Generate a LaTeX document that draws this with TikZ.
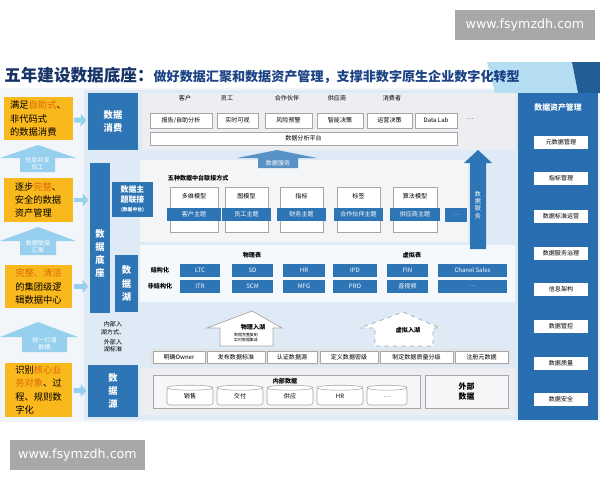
\documentclass[tikz,border=0pt]{standalone}
\usepackage{fontspec}
\setmainfont{Noto Sans CJK SC}
\newfontfamily\wmfont{DejaVu Sans}
\usetikzlibrary{arrows.meta,positioning}

\definecolor{dblue}{RGB}{46,117,182}
\definecolor{pblue}{RGB}{40,110,176}
\definecolor{gold}{RGB}{249,184,28}
\definecolor{hilite}{RGB}{222,104,8}
\definecolor{sky}{RGB}{150,208,238}
\definecolor{pagebg}{RGB}{242,246,250}
\definecolor{bgpanel}{RGB}{222,234,246}
\definecolor{panelgray}{RGB}{236,238,241}
\definecolor{titleblue}{RGB}{22,52,104}
\definecolor{subblue}{RGB}{26,66,132}
\definecolor{wmgray}{RGB}{168,168,168}

\newcommand\fsa{\fontsize{4.3}{5.2}\selectfont}
\newcommand\fsb{\fontsize{5.6}{6.8}\selectfont}
\newcommand\fsc{\fontsize{6.6}{9.4}\selectfont}

\begin{document}
\begin{tikzpicture}[
    x=0.025cm, y=-0.025cm,
    wh/.style 2 args={minimum width=(#1)*0.025cm, minimum height=(#2)*0.025cm},
    bluebox/.style={rectangle, fill=dblue, text=white, inner sep=0pt, font=\fsc\bfseries, align=center},
    goal/.style={rectangle, fill=gold, inner sep=0pt, font=\fsc, align=left},
    cell/.style={rectangle, draw=gray!70, fill=white, inner sep=0pt, font=\fsa},
    tcell/.style={rectangle, fill=dblue, text=white, inner sep=0pt, font=\fsa},
    assetbox/.style={rectangle, fill=white, inner sep=0pt, font=\fsa, wh={54}{13}},
    stepup/.style={fill=sky},
    hop/.style={-{Triangle[length=4pt,width=9pt]}, line width=3.5pt, sky, shorten <=1pt, shorten >=1pt},
    inlet/.style={draw=gray!70, fill=white, line width=0.5pt}
]
    \useasboundingbox (0,0) rectangle (600,480);
    \fill[white] (0,0) rectangle (600,480);

    % Backgrounds
    \fill[pagebg] (0,88) rectangle (600,422);
    \fill[bgpanel] (84,90) rectangle (518,420);
    \fill[sky!70] (487,62) -- (572,62) -- (578,93) -- (495,93) -- cycle;
    \fill[pblue!85!black] (572,62) -- (600,62) -- (600,93) -- (578,93) -- cycle;
    \fill[panelgray] (142,93) rectangle (515,150);
    \fill[panelgray!60!white] (140,160) rectangle (468,242);
    \fill[white!70!bgpanel] (140,245) rectangle (515,302);
    \fill[gray!22] (150,349) rectangle (510,365);
    \fill[panelgray] (140,368) rectangle (515,415);

    % Title
    \node[anchor=west, inner sep=0pt, text=titleblue] (title) at (4,75)
        {{\fontsize{11.8}{13}\selectfont\bfseries 五年建设数据底座：}{\fontsize{9.3}{10}\selectfont\bfseries\color{subblue}做好数据汇聚和数据资产管理，支撑非数字原生企业数字化转型}};

    % Watermarks
    \node[fill=wmgray, text=white, wh={140}{30}, inner sep=0pt, font=\wmfont\fontsize{9}{10}\selectfont] (wmtop) at (525,25) {www.fsymzdh.com};
    \node[fill=wmgray, text=white, wh={135}{30}, inner sep=0pt, font=\wmfont\fontsize{9}{10}\selectfont] (wmbot) at (77.5,455) {www.fsymzdh.com};

    % Left column: goals
    \node[goal, wh={69}{43}] (need) at (38,118.5) {满足{\color{hilite}自助式}、\\非代码式\\的数据消费};
    \node[goal, wh={69}{44}] (asset) at (38,200) {逐步{\color{hilite}完整}、\\安全的数据\\资产管理};
    \node[goal, wh={67}{43}] (center) at (38.5,286.5) {{\color{hilite}完整、清洁}\\的集团级逻\\辑数据中心};
    \node[goal, wh={67}{54}] (core) at (38.5,390) {识别{\color{hilite}核心业}\\{\color{hilite}务对象}、过\\程、规则数\\字化};

    % Left column: up arrows
    \fill[stepup] (38,145) -- (76,158) -- (55,158) -- (55,172) -- (20,172) -- (20,158) -- (0,158) -- cycle;
    \node[font=\fsa, text=white, align=center] (upa) at (37.5,164) {信息共享\\加工};
    \fill[stepup] (38,227) -- (76,241) -- (56,241) -- (56,255) -- (20,255) -- (20,241) -- (0,241) -- cycle;
    \node[font=\fsa, text=white, align=center] (upb) at (38,247) {数据联接\\汇聚};
    \fill[stepup] (38,322) -- (78,337) -- (67,337) -- (67,352) -- (22,352) -- (22,337) -- (0,337) -- cycle;
    \node[font=\fsa, text=white, align=center] (upc) at (44.5,343.5) {统一打通\\数据};

    % Layer boxes
    \node[bluebox, wh={50}{57}] (consume) at (113,121.5) {数据\\消费};
    \node[bluebox, wh={20}{150}] (base) at (100,238) {\\[18pt]数\\据\\底\\座};
    \node[bluebox, wh={41}{35}, font=\fsb\bfseries] (topic) at (132.5,199.5) {数据主\\题联接\\{\fontsize{3.4}{4}\selectfont(数据中台)}};
    \node[bluebox, wh={23}{57}] (lake) at (126.5,283.5) {数\\据\\湖};
    \node[bluebox, wh={50}{52}] (source) at (113,391) {数\\据\\源};
    \node[font=\fsa, align=center] (inway) at (113,337) {内部入\\湖方式、\\[2pt]外部入\\湖标准};

    % Hops
    \draw[hop] (need) -- (consume);
    \draw[hop] (asset.east) -- (asset.east -| base.west);
    \draw[hop] (center.east) -- (center.east -| base.west);
    \draw[hop] (core) -- (source);

    % Data consumption
    \foreach \n/\x/\t in {cust/185/客户, staff/227/员工, part/287/合作伙伴, supp/337/供应商, user/392/消费者}
        \node[font=\fsa] (\n) at (\x,98) {\t};
    \foreach \n/\x/\w/\t in {rpt/181/62/{报告/自助分析}, rtv/237.5/41/实时可视, risk/288.5/47/风险预警,
                             smart/340/46/智能决策, ops/389.5/45/运营决策, lab/436/42/Data Lab}
        \node[cell, wh={\w}{15}] (\n) at (\x,120.5) {\t};
    \node[font=\fsa] (moreapp) at (470,119) {\ldots};
    \node[cell, wh={307}{13}] (platform) at (303.5,138.5) {数据分析平台};

    % Data service arrows
    \fill[dblue!80] (277,150) -- (317,158) -- (298,158) -- (298,168) -- (258,168) -- (258,158) -- (237,158) -- cycle;
    \node[font=\fsa, text=white] (srvmid) at (278,163) {数据服务};
    \fill[dblue] (478,150) -- (492,163) -- (486,163) -- (486,249) -- (470,249) -- (470,163) -- (464,163) -- cycle;
    \node[font=\fsa, text=white, align=center] (srvright) at (478,205) {数\\据\\服\\务};

    % Data middle platform
    \node[anchor=west, font=\fsa\bfseries] (modes) at (163,178) {五种数据中台联接方式};
    \foreach \n/\x/\w/\m/\s in {mdim/194/48/多维模型/客户主题, mgra/246.5/43/图模型/员工主题,
                                mind/301.5/43/指标/财务主题, mtag/358.5/43/标签/合作伙伴主题,
                                malg/415/44/算法模型/供应商主题}{
        \node[cell, wh={\w}{45}] (\n) at (\x,209.5) {};
        \node[font=\fsa] (\n-t) at (\x,196) {\m};
        \node[tcell, wh={\w+6}{13}] (\n-s) at (\x,214.5) {\s};
    }
    \node[tcell, wh={22}{14}] (moretopic) at (456,215) {\ldots};

    % Data lake
    \node[font=\fsa\bfseries] (phys) at (252,255) {物理表};
    \node[font=\fsa\bfseries] (virt) at (412,255) {虚拟表};
    \node[font=\fsa\bfseries] (struct) at (160,270.5) {结构化};
    \node[font=\fsa\bfseries] (unstruct) at (160,286.5) {非结构化};
    \foreach \n/\x/\w/\a/\b in {ca/200/40/LTC/ITR, cb/252.5/41/SD/SCM, cc/304/42/HR/MFG,
                                cd/355/44/IPD/PRO, ce/407.5/41/FIN/音视频, cf/472.5/69/Chanel Sales/\ldots}{
        \node[tcell, wh={\w}{13}] (\n-a) at (\x,270.5) {\a};
        \node[tcell, wh={\w}{13}] (\n-b) at (\x,286.5) {\b};
    }

    % Lake entry
    \filldraw[inlet] (252,311) -- (282,328) -- (273,328) -- (273,346) -- (220,346) -- (220,328) -- (207,328) -- cycle;
    \node[font=\fsa\bfseries] (physin) at (253,327) {物理入湖};
    \node[font=\fontsize{2.8}{3.3}\selectfont, align=left] (physnote) at (246,337.5) {数据完整复制\\实时数据集成};
    \filldraw[inlet, dashed] (403,312) -- (440,328) -- (433,328) -- (433,346) -- (375,346) -- (375,328) -- (360,328) -- cycle;
    \node[font=\fsa\bfseries] (virtin) at (408,330) {虚拟入湖};
    \foreach \n/\x/\w/\t in {own/179/52/明确Owner, std/236/58/发布数据标准, auth/292/50/认证数据源,
                             lvl/349/58/定义数据密级, qual/416.5/73/制定数据质量分级, meta/481.5/53/注册元数据}
        \node[cell, wh={\w}{12}] (\n) at (\x,357) {\t};

    % Data source
    \node[cell, fill=panelgray!50!white, wh={267}{33}] (inner) at (286.5,391.5) {};
    \node[font=\fsa\bfseries] (innert) at (285,381) {内部数据};
    \foreach \n/\x/\w/\t in {sales/190/46/销售, deliv/240/46/交付, supply/290/46/供应, hrdb/340/46/HR, moredb/387/40/\ldots}{
        \node[cell, wh={\w}{17}, rounded corners=2pt] (\n) at (\x,396.5) {\raisebox{-2pt}{\t}};
        \filldraw[draw=gray!70, fill=white] (\n.north) ellipse ({\w/2} and 2.5);
    }
    \node[cell, fill=panelgray!50!white, wh={83}{33}, font=\fsb\bfseries, align=center] (outer) at (466.5,391.5) {外部\\数据};

    % Data asset management
    \fill[pblue] (518,93) rectangle (598,420);
    \node[font=\fsb\bfseries, text=white] (mgmt) at (558,108) {数据资产管理};
    \foreach \n/\y/\t in {am1/142/元数据管理, am2/178/指标管理, am3/216/数据标准运营, am4/253/数据服务治理,
                          am5/289/信息架构, am6/326/数据管控, am7/363/数据质量, am8/399/数据安全}
        \node[assetbox] (\n) at (561,\y) {\t};
\end{tikzpicture}
\end{document}
